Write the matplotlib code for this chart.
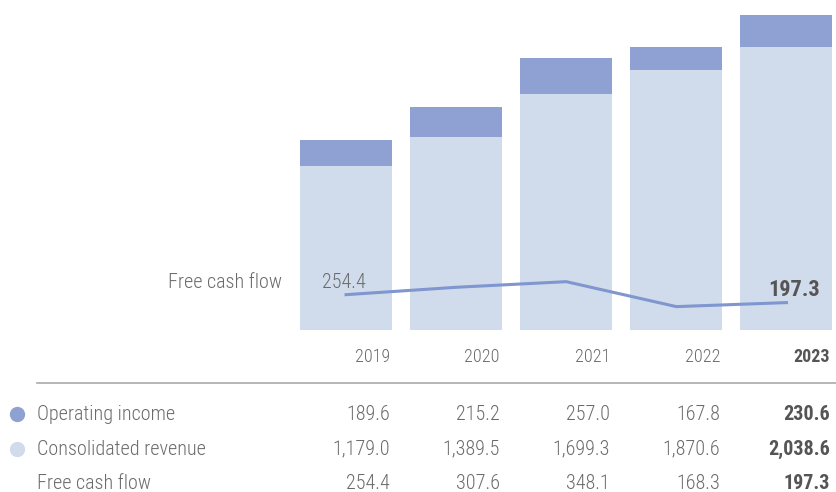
import matplotlib.pyplot as plt
import matplotlib.transforms as mtransforms
from matplotlib.lines import Line2D

years = ['2019', '2020', '2021', '2022', '2023']
operating_income = [189.6, 215.2, 257.0, 167.8, 230.6]
revenue = [1179.0, 1389.5, 1699.3, 1870.6, 2038.6]
free_cash_flow = [254.4, 307.6, 348.1, 168.3, 197.3]

rev_labels = ['1,179.0', '1,389.5', '1,699.3', '1,870.6', '2,038.6']
oi_labels = ['189.6', '215.2', '257.0', '167.8', '230.6']
fcf_labels = ['254.4', '307.6', '348.1', '168.3', '197.3']

c_dark = '#8ea1d2'
c_light = '#d0dcec'
c_line = '#7f96cf'
c_text = '#6b6b6b'
c_bold = '#555555'

plt.rcParams['font.family'] = ['Roboto Condensed', 'Liberation Sans Narrow', 'DejaVu Sans']
plt.rcParams['font.weight'] = 300

fig = plt.figure(figsize=(8.36, 4.92), dpi=100)
ax = fig.add_axes([0, 0, 1, 1])
ax.set_xlim(-3.143, 4.45)
ax.set_ylim(-1167, 2377)
ax.axis('off')

x = list(range(len(years)))
w = 0.835
ax.bar(x, revenue, width=w, color=c_light, zorder=1)
ax.bar(x, operating_income, width=w, bottom=revenue, color=c_dark, zorder=1)
ax.plot(x, free_cash_flow, color=c_line, lw=2.2, zorder=3)

# line labels
ax.text(-0.58, free_cash_flow[0] + 85, 'Free cash flow', ha='right', va='center',
        fontsize=14.5, color=c_text)
ax.text(-0.22, free_cash_flow[0] + 85, fcf_labels[0], ha='left', va='center',
        fontsize=14.5, color=c_text)
ax.text(4.3, free_cash_flow[4] + 90, fcf_labels[4], ha='right', va='center',
        fontsize=16, color=c_bold, fontweight='bold')

tr = mtransforms.blended_transform_factory(ax.transData, fig.transFigure)

# year labels
for i, y in enumerate(years):
    bold = i == len(years) - 1
    ax.text(i + w / 2 - 0.02, 0.274, y, transform=tr, ha='right', va='center',
            fontsize=13, color=c_bold if bold else c_text,
            fontweight='bold' if bold else 300)

fig.add_artist(Line2D([0.044, 1.0], [0.2215, 0.2215], color='#aaaaaa', lw=1.2,
                      transform=fig.transFigure))

rows = [('Operating income', oi_labels, c_dark, 0.158),
        ('Consolidated revenue', rev_labels, c_light, 0.087),
        ('Free cash flow', fcf_labels, None, 0.018)]
for name, vals, dot, yy in rows:
    if dot:
        fig.add_artist(Line2D([0.0205], [yy], marker='o', ms=10, color=dot,
                              transform=fig.transFigure))
    fig.text(0.044, yy, name, ha='left', va='center', fontsize=14.5, color=c_text)
    for i, v in enumerate(vals):
        bold = i == len(vals) - 1
        ax.text(i + w / 2 - 0.02, yy, v, transform=tr, ha='right', va='center',
                fontsize=14.5, color=c_bold if bold else c_text,
                fontweight='bold' if bold else 300)

fig.savefig('out.png', dpi=100)
